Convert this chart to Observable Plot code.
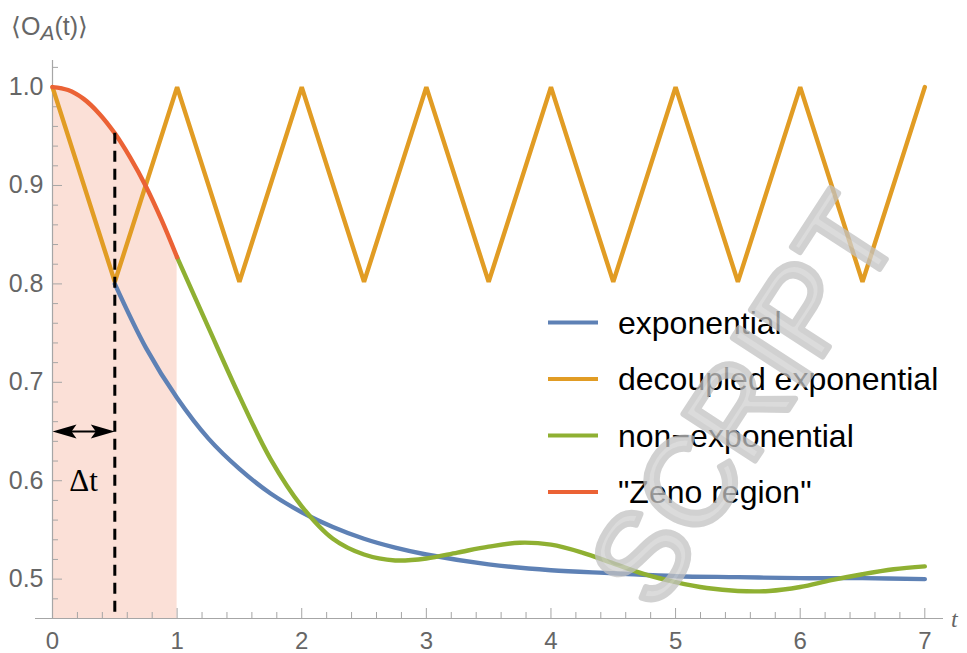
<!DOCTYPE html>
<html><head><meta charset="utf-8">
<script src="https://cdn.jsdelivr.net/npm/d3@7"></script>
<script src="https://cdn.jsdelivr.net/npm/@observablehq/plot@0.6"></script>
<style>
body{margin:0;background:#fff;}
#chart{position:relative;width:967px;height:653px;overflow:hidden;}
</style>
</head><body><div id="chart"></div>
<script>
// ---- data ----
const xTicks = [0, 1, 2, 3, 4, 5, 6, 7];
const yTicks = [0.5, 0.6, 0.7, 0.8, 0.9, 1.0];
const seriesNames = ["exponential", "decoupled exponential", "non\u2212exponential", "\"Zeno region\""];
const seriesColors = ["#5E81B5", "#E19C24", "#8FB032", "#EB6235"];

// exponential (visible from t = 0.5, below the orange before that)
const expT = [0.5, 0.75, 1, 1.25, 1.5, 1.75, 2, 2.25, 2.5, 2.75, 3, 3.5, 4, 4.5, 5, 5.5, 6, 6.5, 7];
const expV = [0.800, 0.735, 0.684, 0.643, 0.612, 0.587, 0.568, 0.553, 0.541, 0.532, 0.525, 0.515, 0.509, 0.506, 0.503, 0.502, 0.501, 0.501, 0.500];

// decoupled exponential (saw-tooth)
const decT = [0, 0.5, 1, 1.5, 2, 2.5, 3, 3.5, 4, 4.5, 5, 5.5, 6, 6.5, 7];
const decV = [1.0, 0.802, 1.0, 0.802, 1.0, 0.802, 1.0, 0.802, 1.0, 0.802, 1.0, 0.802, 1.0, 0.802, 1.0];

// non-exponential (t <= 1 drawn as "Zeno region")
const nonT = [0, 0.125, 0.25, 0.375, 0.5, 0.625, 0.75, 0.875, 1, 1.25, 1.5, 1.75, 2, 2.25, 2.5, 2.75, 3, 3.25, 3.5, 3.75, 4, 4.25, 4.5, 4.75, 5, 5.25, 5.5, 5.75, 6, 6.25, 6.5, 6.75, 7];
const nonV = [1.0, 0.997, 0.988, 0.973, 0.953, 0.928, 0.899, 0.865, 0.827, 0.756, 0.686, 0.622, 0.574, 0.541, 0.525, 0.519, 0.521, 0.527, 0.533, 0.537, 0.535, 0.527, 0.516, 0.505, 0.497, 0.491, 0.488, 0.488, 0.492, 0.499, 0.505, 0.510, 0.513];
const zenoEnd = 1;

// Δt annotation
const dtStart = [0];
const dtEnd = [0.5];
const dtArrowV = [0.65];
const dtDashTop = [0.953];
const dtLabelPos = [{t: 0.25, v: 0.6, text: "\u0394t"}];

// ---- layout ----
const W = 967, H = 653;
const mL = 52, mR = 24, mT = 60, mB = 35;
const fw = W - mL - mR, fh = H - mT - mB;
const yMin = 0.46, yMax = 1.027, xMax = 7.15;
const axisColor = "#a6a6a6", labelColor = "#666";
const sans = "'Liberation Sans', Arial, sans-serif";

const row = (ts, vs) => ts.map((t, i) => ({t, v: vs[i]}));
const expData = row(expT, expV);
const decData = row(decT, decV);
const nonData = row(nonT, nonV);
const zenoData = nonData.filter(d => d.t <= zenoEnd);
const greenData = nonData.filter(d => d.t >= zenoEnd);
const xMinor = d3.range(0.2, 7.01, 0.2).filter(v => Math.abs(v - Math.round(v)) > 1e-6);
const yMinor = d3.range(0.48, 1.03, 0.02).filter(v => Math.abs(v * 10 - Math.round(v * 10)) > 1e-6);
const annot = dtStart.map((s, i) => ({s, e: dtEnd[i], v: dtArrowV[i], top: dtDashTop[i]}));

const headLeft = {draw(ctx) { ctx.moveTo(0, 0); ctx.lineTo(24, -7); ctx.lineTo(19, 0); ctx.lineTo(24, 7); ctx.closePath(); }};
const headRight = {draw(ctx) { ctx.moveTo(0, 0); ctx.lineTo(-24, -7); ctx.lineTo(-19, 0); ctx.lineTo(-24, 7); ctx.closePath(); }};

const lw = 4.4;
const chart = Plot.plot({
  width: W, height: H,
  marginLeft: mL, marginRight: mR, marginTop: mT, marginBottom: mB,
  style: {fontFamily: sans, background: "#fff"},
  x: {domain: [0, xMax], axis: null},
  y: {domain: [yMin, yMax], axis: null},
  marks: [
    Plot.areaY(zenoData, {x: "t", y1: yMin, y2: "v", fill: seriesColors[3], fillOpacity: 0.2, curve: "catmull-rom"}),
    // axes
    Plot.ruleX([0], {stroke: axisColor, strokeWidth: 1.2}),
    Plot.ruleY([yMin], {stroke: axisColor, strokeWidth: 1.2, insetLeft: -17}),
    Plot.tickX(xTicks, {x: d => d, stroke: axisColor, insetTop: fh - 10}),
    Plot.tickX(xMinor, {x: d => d, stroke: axisColor, insetTop: fh - 6}),
    Plot.tickY(yTicks, {y: d => d, stroke: axisColor, insetRight: fw - 10}),
    Plot.tickY(yMinor, {y: d => d, stroke: axisColor, insetRight: fw - 6}),
    Plot.text(yTicks, {y: d => d, text: d => d3.format(".1f")(d), frameAnchor: "left", textAnchor: "end", dx: -9, fontSize: 25, fill: labelColor}),
    Plot.text(xTicks, {x: d => d, text: d => String(d), frameAnchor: "bottom", lineAnchor: "top", dy: 13, fontSize: 24, fill: labelColor}),
    // curves
    Plot.line(expData, {x: "t", y: "v", stroke: seriesColors[0], strokeWidth: lw, curve: "catmull-rom"}),
    Plot.line(decData, {x: "t", y: "v", stroke: seriesColors[1], strokeWidth: lw, strokeLinejoin: "miter"}),
    Plot.line(greenData, {x: "t", y: "v", stroke: seriesColors[2], strokeWidth: lw, curve: "catmull-rom"}),
    Plot.line(zenoData, {x: "t", y: "v", stroke: seriesColors[3], strokeWidth: lw, curve: "catmull-rom"}),
    // Δt annotation
    Plot.ruleX(annot, {x: "e", y1: "top", y2: yMin, stroke: "#000", strokeWidth: 3, strokeDasharray: "11,7"}),
    Plot.ruleY(annot, {x1: d => d.s, x2: d => d.e, y: "v", stroke: "#000", strokeWidth: 2.2, insetLeft: 14, insetRight: 14}),
    Plot.dot(annot, {x: "s", y: "v", symbol: headLeft, fill: "#000", stroke: null, r: 5}),
    Plot.dot(annot, {x: "e", y: "v", symbol: headRight, fill: "#000", stroke: null, r: 5}),
    Plot.text(dtLabelPos, {x: "t", y: "v", text: "text", fontSize: 31, fill: "#000", fontFamily: "'Liberation Serif', 'Times New Roman', serif"})
  ]
});
document.getElementById("chart").appendChild(chart);

const svg = d3.select(chart);
// y label
const yl = svg.append("text").attr("x", 11).attr("y", 35).attr("fill", labelColor).attr("text-anchor", "start")
  .attr("font-size", 25).attr("font-family", sans);
yl.append("tspan").text("\u27E8O");
yl.append("tspan").text("A").attr("font-style", "italic").attr("font-size", 21).attr("dy", 5);
yl.append("tspan").text("(t)\u27E9").attr("dy", -5);
// x label at the right end of the axis
svg.append("text").attr("x", 951).attr("y", 627).attr("fill", labelColor).attr("font-size", 24).attr("text-anchor", "start")
  .attr("font-style", "italic").attr("font-family", "'Liberation Serif', serif").text("t");

// legend
const lg = svg.append("g").attr("font-family", sans).attr("font-size", 32).attr("text-anchor", "start");
const rows = [322.5, 379, 435.5, 492];
seriesNames.forEach((name, i) => {
  lg.append("line").attr("x1", 548).attr("x2", 598).attr("y1", rows[i]).attr("y2", rows[i])
    .attr("stroke", seriesColors[i]).attr("stroke-width", 4);
  lg.append("text").attr("x", 618).attr("y", rows[i] + 11).attr("fill", "#000").text(name);
});

// watermark of the source scan
svg.append("text").attr("transform", "translate(752,405) rotate(-57)")
  .attr("text-anchor", "middle").attr("dominant-baseline", "middle")
  .attr("font-family", sans).attr("font-size", 124)
  .attr("fill", "#cfcfcf").attr("stroke", "#c2c2c2").attr("stroke-width", 6).attr("stroke-linejoin", "round")
  .attr("opacity", 0.75).text("SCRIPT");
</script>
</body></html>
